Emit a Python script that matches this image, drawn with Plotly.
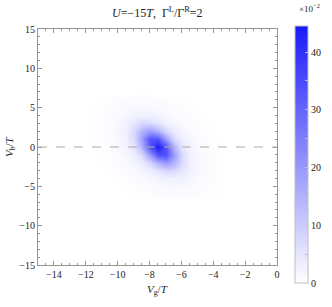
import plotly.graph_objects as go

# gate voltage / bias voltage grid (units of T); z in units of 1e-2
vg = [-12, -11, -10.5, -10, -9.5, -9, -8.5, -8, -7.5, -7, -6.5, -6, -5.5, -5, -4.5, -4, -3]
vb = [-7, -6, -5, -4, -3, -2, -1, 0, 1, 2, 3, 4, 5, 6, 7]

row_m6 = [0, 0, 0, 0.1, 0.2, 0.3, 0.5, 0.6, 0.8, 0.8, 0.8, 0.7, 0.6, 0.4, 0.2]
row_m5 = [0, 0, 0.1, 0.2, 0.4, 0.6, 0.9, 1.2, 1.4, 1.5, 1.4, 1.2, 0.9, 0.6, 0.3]
row_m4 = [0, 0.1, 0.2, 0.4, 0.7, 1.1, 1.6, 2.2, 2.8, 3.0, 2.6, 1.8, 1.2, 0.7, 0.4]
row_m3 = [0.1, 0.2, 0.4, 0.7, 1.2, 1.9, 3.0, 5.0, 7.2, 7.1, 4.8, 2.6, 1.4, 0.8, 0.5]
row_m2 = [0.1, 0.3, 0.6, 1.1, 1.9, 3.4, 7.3, 14.6, 19.1, 14.6, 7.1, 3.0, 1.5, 0.8, 0.4]
row_m1 = [0.2, 0.5, 0.9, 1.6, 3.0, 7.3, 19.0, 33.4, 33.5, 19.1, 7.2, 2.8, 1.4, 0.8, 0.4]
row_0 = [0.3, 0.6, 1.2, 2.2, 5.0, 14.6, 33.4, 44.0, 33.4, 14.6, 5.0, 2.2, 1.2, 0.6, 0.3]
row_p1 = [0.4, 0.8, 1.4, 2.8, 7.2, 19.1, 33.5, 33.4, 19.0, 7.3, 3.0, 1.6, 0.9, 0.5, 0.2]
row_p2 = [0.4, 0.8, 1.5, 3.0, 7.1, 14.6, 19.1, 14.6, 7.3, 3.4, 1.9, 1.1, 0.6, 0.3, 0.1]
row_p3 = [0.5, 0.8, 1.4, 2.6, 4.8, 7.1, 7.2, 5.0, 3.0, 1.9, 1.2, 0.7, 0.4, 0.2, 0.1]
row_p4 = [0.4, 0.7, 1.2, 1.8, 2.6, 3.0, 2.8, 2.2, 1.6, 1.1, 0.7, 0.4, 0.2, 0.1, 0]
row_p5 = [0.3, 0.6, 0.9, 1.2, 1.4, 1.5, 1.4, 1.2, 0.9, 0.6, 0.4, 0.2, 0.1, 0, 0]
row_p6 = [0.2, 0.4, 0.6, 0.7, 0.8, 0.8, 0.8, 0.6, 0.5, 0.3, 0.2, 0.1, 0, 0, 0]

rows = [row_m6, row_m5, row_m4, row_m3, row_m2, row_m1, row_0,
        row_p1, row_p2, row_p3, row_p4, row_p5, row_p6]
z = [[0] * len(vg)] + [[0] + r + [0] for r in rows] + [[0] * len(vg)]

cbar_vals = [0, 5, 10, 15, 20, 25, 30, 35, 40]
cbar_text = ["0", "", "10", "", "20", "", "30", "", "40"]
x_ticks = [-14, -12, -10, -8, -6, -4, -2, 0]
y_ticks = [-15, -10, -5, 0, 5, 10, 15]

serif = "Liberation Serif"
frame = "rgb(150,150,150)"

fig = go.Figure()
fig.add_trace(go.Heatmap(
    x=vg, y=vb, z=z, zsmooth="best", zmin=0, zmax=44.5,
    colorscale=[[0, "rgb(255,255,255)"], [1, "rgb(25,25,250)"]],
    colorbar=dict(
        x=1.075, xanchor="left", y=0.468, yanchor="middle", xpad=0, ypad=0,
        thickness=13, len=257, lenmode="pixels",
        outlinecolor="rgb(190,190,190)", outlinewidth=1,
        tickvals=cbar_vals, ticktext=cbar_text, ticks="inside", ticklen=3,
        tickcolor="rgb(190,190,190)", tickfont=dict(family=serif, size=10, color="#222"),
    ),
))
fig.add_shape(type="line", x0=-15, x1=0, y0=0, y1=0,
              line=dict(color="rgb(170,170,170)", width=1, dash="dash"))

axis = dict(showgrid=False, zeroline=False, showline=True, linecolor=frame, linewidth=1,
            mirror="ticks", ticks="inside", tickcolor=frame, ticklen=4,
            tickfont=dict(family=serif, size=10, color="#222"))
fig.update_xaxes(range=[-15, 0], tickvals=x_ticks,
                 minor=dict(dtick=0.5, ticks="inside", ticklen=2, tickcolor=frame), **axis)
fig.update_yaxes(range=[-15, 15], tickvals=y_ticks,
                 minor=dict(dtick=1, ticks="inside", ticklen=2, tickcolor=frame), **axis)

label = dict(xref="paper", yref="paper", showarrow=False, xanchor="center", yanchor="middle")

fig.update_layout(
    width=332, height=307,
    margin=dict(l=38, r=55, t=29, b=42, autoexpand=False),
    paper_bgcolor="white", plot_bgcolor="white",
    showlegend=False,
    annotations=[
        dict(text="<i>U</i>=−15<i>T</i>,  Γ<sup>L</sup>/Γ<sup>R</sup>=2", x=0.5, y=1.068,
             font=dict(family=serif, size=12, color="#222"), **label),
        dict(text="<i>V</i><sub>g</sub>/<i>T</i>", x=0.5, y=-0.106,
             font=dict(family=serif, size=11, color="#222"), **label),
        dict(text="<i>V</i><sub>b</sub>/<i>T</i>", x=-0.117, y=0.5, textangle=-90,
             font=dict(family=serif, size=11, color="#222"), **label),
        dict(text="×10<sup>−2</sup>", x=1.138, y=1.089,
             font=dict(family=serif, size=9, color="#222"), **label),
    ],
)

# drop the default body margin so the figure sits at the window's corner
fig.write_html("out.html", config={"displayModeBar": False},
               post_script="document.body.style.margin='0';")
